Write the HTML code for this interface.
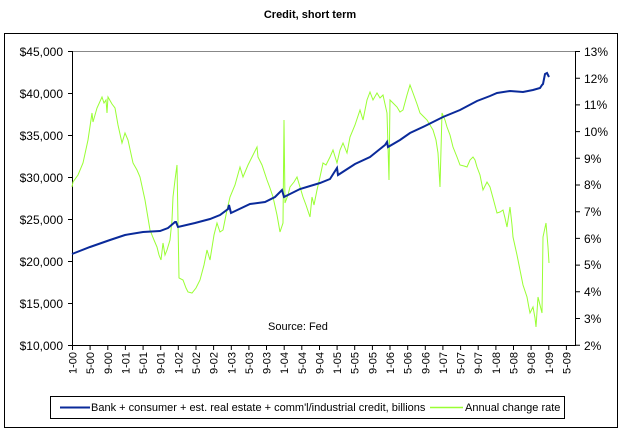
<!DOCTYPE html>
<html><head><meta charset="utf-8"><style>
body{margin:0;background:#fff;width:630px;height:435px;overflow:hidden}
svg text{font-family:"Liberation Sans",Arial,sans-serif}
</style></head><body>
<svg width="630" height="435" viewBox="0 0 630 435" xmlns="http://www.w3.org/2000/svg">
<text x="310" y="18" font-size="11" font-weight="bold" text-anchor="middle">Credit, short term</text>
<rect x="4.5" y="33.5" width="613" height="394" fill="none" stroke="#000" stroke-width="1"/>
<line x1="72" y1="51.5" x2="575" y2="51.5" stroke="#888"/>
<line x1="72.5" y1="51" x2="72.5" y2="345" stroke="#000"/>
<line x1="575.5" y1="51" x2="575.5" y2="345" stroke="#000"/>
<line x1="72" y1="345.5" x2="576" y2="345.5" stroke="#000"/>
<g font-size="12" fill="#000" text-anchor="end">
<text x="63" y="56">$45,000</text><text x="63" y="98">$40,000</text><text x="63" y="140">$35,000</text><text x="63" y="182">$30,000</text><text x="63" y="224">$25,000</text><text x="63" y="266">$20,000</text><text x="63" y="308">$15,000</text><text x="63" y="350">$10,000</text>
</g>
<g stroke="#000"><path d="M68 51.5h4M68 93.5h4M68 135.5h4M68 177.5h4M68 219.5h4M68 261.5h4M68 303.5h4M68 345.5h4"/></g>
<g font-size="12" text-anchor="start">
<text x="584" y="56">13%</text><text x="584" y="83">12%</text><text x="584" y="109">11%</text><text x="584" y="136">10%</text><text x="584" y="163">9%</text><text x="584" y="189">8%</text><text x="584" y="216">7%</text><text x="584" y="243">6%</text><text x="584" y="269">5%</text><text x="584" y="296">4%</text><text x="584" y="323">3%</text><text x="584" y="350">2%</text>
</g>
<path stroke="#000" d="M575 51.5h5M575 78.2h5M575 104.9h5M575 131.6h5M575 158.3h5M575 185h5M575 211.7h5M575 238.4h5M575 265.1h5M575 291.8h5M575 318.5h5M575 345.2h5"/>
<path stroke="#000" d="M72.5 345v5M90.1 345v5M107.8 345v5M125.4 345v5M143.1 345v5M160.7 345v5M178.3 345v5M196 345v5M213.6 345v5M231.3 345v5M248.9 345v5M266.5 345v5M284.2 345v5M301.8 345v5M319.5 345v5M337.1 345v5M354.7 345v5M372.4 345v5M390 345v5M407.7 345v5M425.3 345v5M442.9 345v5M460.6 345v5M478.2 345v5M495.9 345v5M513.5 345v5M531.1 345v5M548.8 345v5M566.4 345v5"/>
<g font-size="11" text-anchor="end">
<text transform="translate(76.5,352) rotate(-90)">1-00</text><text transform="translate(94.1,352) rotate(-90)">5-00</text><text transform="translate(111.8,352) rotate(-90)">9-00</text><text transform="translate(129.4,352) rotate(-90)">1-01</text><text transform="translate(147.1,352) rotate(-90)">5-01</text><text transform="translate(164.7,352) rotate(-90)">9-01</text><text transform="translate(182.3,352) rotate(-90)">1-02</text><text transform="translate(200,352) rotate(-90)">5-02</text><text transform="translate(217.6,352) rotate(-90)">9-02</text><text transform="translate(235.3,352) rotate(-90)">1-03</text><text transform="translate(252.9,352) rotate(-90)">5-03</text><text transform="translate(270.5,352) rotate(-90)">9-03</text><text transform="translate(288.2,352) rotate(-90)">1-04</text><text transform="translate(305.8,352) rotate(-90)">5-04</text><text transform="translate(323.5,352) rotate(-90)">9-04</text><text transform="translate(341.1,352) rotate(-90)">1-05</text><text transform="translate(358.7,352) rotate(-90)">5-05</text><text transform="translate(376.4,352) rotate(-90)">9-05</text><text transform="translate(394,352) rotate(-90)">1-06</text><text transform="translate(411.7,352) rotate(-90)">5-06</text><text transform="translate(429.3,352) rotate(-90)">9-06</text><text transform="translate(446.9,352) rotate(-90)">1-07</text><text transform="translate(464.6,352) rotate(-90)">5-07</text><text transform="translate(482.2,352) rotate(-90)">9-07</text><text transform="translate(499.9,352) rotate(-90)">1-08</text><text transform="translate(517.5,352) rotate(-90)">5-08</text><text transform="translate(535.1,352) rotate(-90)">9-08</text><text transform="translate(552.8,352) rotate(-90)">1-09</text><text transform="translate(570.4,352) rotate(-90)">5-09</text>
</g>
<text x="268" y="330" font-size="11">Source: Fed</text>
<polyline fill="none" stroke="#99ff33" stroke-width="1" points="72,187 73,182 78,175 83,163 88,140 92,113 93,122 97,108 102,97 104,103 106,100 107,113 108,97 112,104 115,108 118,125 122,143 125,133 128,140 133,163 137,170 140,177 145,200 150,230 154,240 157,247 159,255 161,260 163,243 165,255 167,250 170,240 172,220 173,197 175,180 177,165 179,278 183,280 186,288 188,292 192,293 196,288 200,280 204,265 207,250 210,260 214,235 217,223 220,232 223,230 227,210 230,197 235,185 240,167 243,177 248,165 253,155 257,147 258,157 262,165 267,180 270,188 273,197 277,215 280,232 283,223 284,120 285,203 288,195 290,187 294,182 297,177 300,187 303,197 306,205 310,217 312,197 314,205 317,190 320,177 323,163 326,165 330,157 333,150 337,163 340,150 343,143 347,153 350,137 355,125 360,110 363,120 367,100 370,92 373,100 377,93 380,98 383,95 387,113 389,180 390,100 394,104 397,107 400,112 403,110 407,95 410,85 413,93 417,104 420,113 424,117 427,120 430,125 433,130 436,140 438,153 440,187 442,113 445,120 447,127 450,135 453,147 457,157 460,165 464,166 467,167 470,160 473,157 475,160 477,167 480,175 483,190 487,182 490,187 493,198 497,213 500,212 503,210 505,218 507,227 510,207 512,225 513,237 517,255 520,270 523,285 527,297 529,308 530,313 533,307 535,318 536,327 538,297 540,305 542,313 543,237 546,223 548,247 549,263"/>
<polyline fill="none" stroke="#0a2a9a" stroke-width="2" points="72,254 90,247 110,240 125,235 143,232 160,231 168,228 175,222 176,222 178,227 195,223 210,219 220,215 228,209 229,205 231,213 250,204 265,202 275,197 282,190 284,197 300,189 320,183 330,179 337,168 338,175 355,164 370,157 385,145 387,142 388,147 400,140 410,133 425,126 443,117 460,110 477,101 490,96 497,93 510,91 523,92 533,90 540,88 542,85 543,84 545,74 547,73 549,77"/>
<rect x="50.5" y="396.5" width="514" height="22" fill="#fff" stroke="#000"/>
<line x1="60" y1="407.5" x2="90" y2="407.5" stroke="#0a2a9a" stroke-width="2"/>
<text x="91" y="411" font-size="11">Bank + consumer + est. real estate + comm'l/industrial credit, billions</text>
<line x1="430" y1="407.5" x2="463" y2="407.5" stroke="#99ff33" stroke-width="1.5"/>
<text x="465" y="411" font-size="11">Annual change rate</text>
</svg>
</body></html>
